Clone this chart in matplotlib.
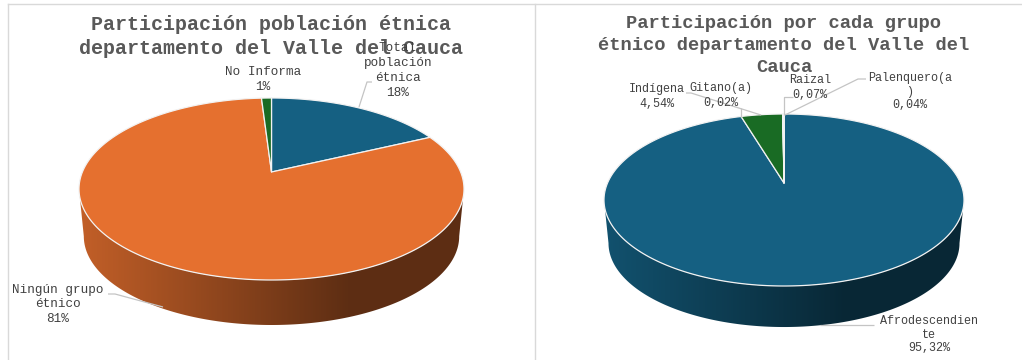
import numpy as np
import matplotlib
matplotlib.use("Agg")
import matplotlib.pyplot as plt
from matplotlib.colors import to_rgb
from matplotlib.patches import Polygon

# ---- data ----
left_title = "Participación población étnica\ndepartamento del Valle del Cauca"
left_categories = ["Total población étnica", "Ningún grupo étnico", "No Informa"]
left_values = [18, 81, 1]
left_colors = ["#156082", "#E5702F", "#196B24"]

right_title = "Participación por cada grupo\nétnico departamento del Valle del\nCauca"
right_categories = ["Afrodescendiente", "Indígena", "Gitano(a)", "Raizal", "Palenquero(a)"]
right_values = [95.32, 4.54, 0.02, 0.07, 0.04]
right_colors = ["#156082", "#196B24", "#E97132", "#0F9ED5", "#A02B93"]

W, H = 1022, 360
MONO = "Liberation Mono"
fig = plt.figure(figsize=(W / 100, H / 100), dpi=100, facecolor="white")
ax = fig.add_axes([0, 0, 1, 1])


def pie3d(ax, values, colors, cx, y_top, y_apex, y_bot, half_w, depth, shrink, dark_end):
    """Perspective pie: a tilted disc projected so that its centre lands on the apex."""
    up, down = y_apex - y_top, y_bot - y_apex
    k = (down - up) / (down + up)
    a = up * (1 + k)
    b = half_w * np.sqrt(1 - k * k)

    def proj(theta, scale=1.0, dy=0.0):
        X, Y = np.sin(theta), np.cos(theta)
        w = 1 + k * Y
        return cx + scale * b * X / w, y_apex + dy - scale * a * Y / w

    fr = np.asarray(values, float) / np.sum(values)
    edges = np.concatenate([[0], np.cumsum(fr)]) * 2 * np.pi
    start = np.arccos(-k)  # the rim's widest point: the wall shows only below it
    # side wall, shaded left to right
    for s in range(len(fr)):
        t0, t1 = max(edges[s], start), min(edges[s + 1], 2 * np.pi - start)
        if t1 <= t0:
            continue
        ts = np.linspace(t0, t1, 400)
        x_up, y_up = proj(ts)
        x_lo, y_lo = proj(ts[::-1], shrink, depth)
        poly = Polygon(np.column_stack([np.r_[x_up, x_lo], np.r_[y_up, y_lo]]), closed=True,
                       fc="none", ec="none", transform=ax.transData)
        ax.add_patch(poly)
        f = np.clip(np.linspace(0, 1, 512) / dark_end, 0, 1)
        shade = 0.85 + (0.41 - 0.85) * f
        grad = shade[None, :, None] * np.array(to_rgb(colors[s]))[None, None, :]
        im = ax.imshow(grad, extent=(cx - half_w, cx + half_w, y_bot + depth + 5, y_top),
                       aspect="auto", zorder=2, interpolation="bilinear")
        im.set_clip_path(poly)
    # top face
    for s in range(len(fr)):
        ts = np.linspace(edges[s], edges[s + 1], max(4, int(fr[s] * 720)))
        xs, ys = proj(ts)
        pts = np.column_stack([np.r_[cx, xs], np.r_[y_apex, ys]])
        ax.add_patch(Polygon(pts, closed=True, fc=colors[s], ec="#f2f2f2", lw=0.9,
                             joinstyle="round", zorder=3))


def label(x, y, text, pitch=14.4, size=9.1):
    for i, line in enumerate(text.split("\n")):
        ax.text(x, y + i * pitch, line, family=MONO, fontsize=size, color="#404040",
                ha="center", va="center", zorder=6)


def leader(pts):
    ax.plot(*zip(*pts), color="#c4c4c4", lw=0.9, zorder=5, solid_capstyle="butt")


# panel frames
for xs, ys in [((8, 8), (360, 3.5)), ((535, 535), (360, 3.5)), ((8, 1022), (3.5, 3.5))]:
    ax.plot(xs, ys, color="#d9d9d9", lw=1.0, zorder=1)

pie3d(ax, left_values, left_colors, 271.5, 98, 172, 280, 192.5, 47.7, 0.975, 0.70)
pie3d(ax, right_values, right_colors, 784, 114, 183, 286, 180, 43.6, 0.975, 0.67)

# titles
for i, line in enumerate(left_title.split("\n")):
    ax.text(271, 25 + i * 23, line, family=MONO, weight="bold", fontsize=14.4, color="#595959",
            ha="center", va="center", zorder=4)
for i, line in enumerate(right_title.split("\n")):
    ax.text(784, 24 + i * 21.5, line, family=MONO, weight="bold", fontsize=13.5, color="#595959",
            ha="center", va="center", zorder=4)

# left labels
pct0 = [f"{v:d}%" for v in left_values]
leader([(372, 82), (367, 82), (359, 107)])
leader([(108, 294), (115, 294), (163, 307)])
label(398, 48, "Total\npoblación\nétnica\n" + pct0[0], 14.9)
label(58, 290, "Ningún grupo\nétnico\n" + pct0[1])
label(263, 72, left_categories[2] + "\n" + pct0[2], 15)

# right labels
pct1 = [f"{v:.2f}%".replace(".", ",") for v in right_values]
leader([(686, 93), (691, 93), (761, 115)])
leader([(741, 108), (741, 117)])
leader([(793, 97), (784, 97), (784, 115)])
leader([(866, 79), (858, 79), (785, 115)])
leader([(874, 325), (820, 325)])
label(657, 89, right_categories[1] + "\n" + pct1[1], 15, 8.5)
label(721, 88, right_categories[2] + "\n" + pct1[2], 14.5, 8.5)
label(810, 80, right_categories[3] + "\n" + pct1[3], 14.5, 8.5)
label(910, 78, "Palenquero(a\n)\n" + pct1[4], 13.5, 8.5)
label(929, 321, "Afrodescendien\nte\n" + pct1[0], 13.7, 8.5)

ax.set_xlim(0, W)
ax.set_ylim(H, 0)
ax.axis("off")

fig.savefig("out.png", dpi=100, facecolor="white")
